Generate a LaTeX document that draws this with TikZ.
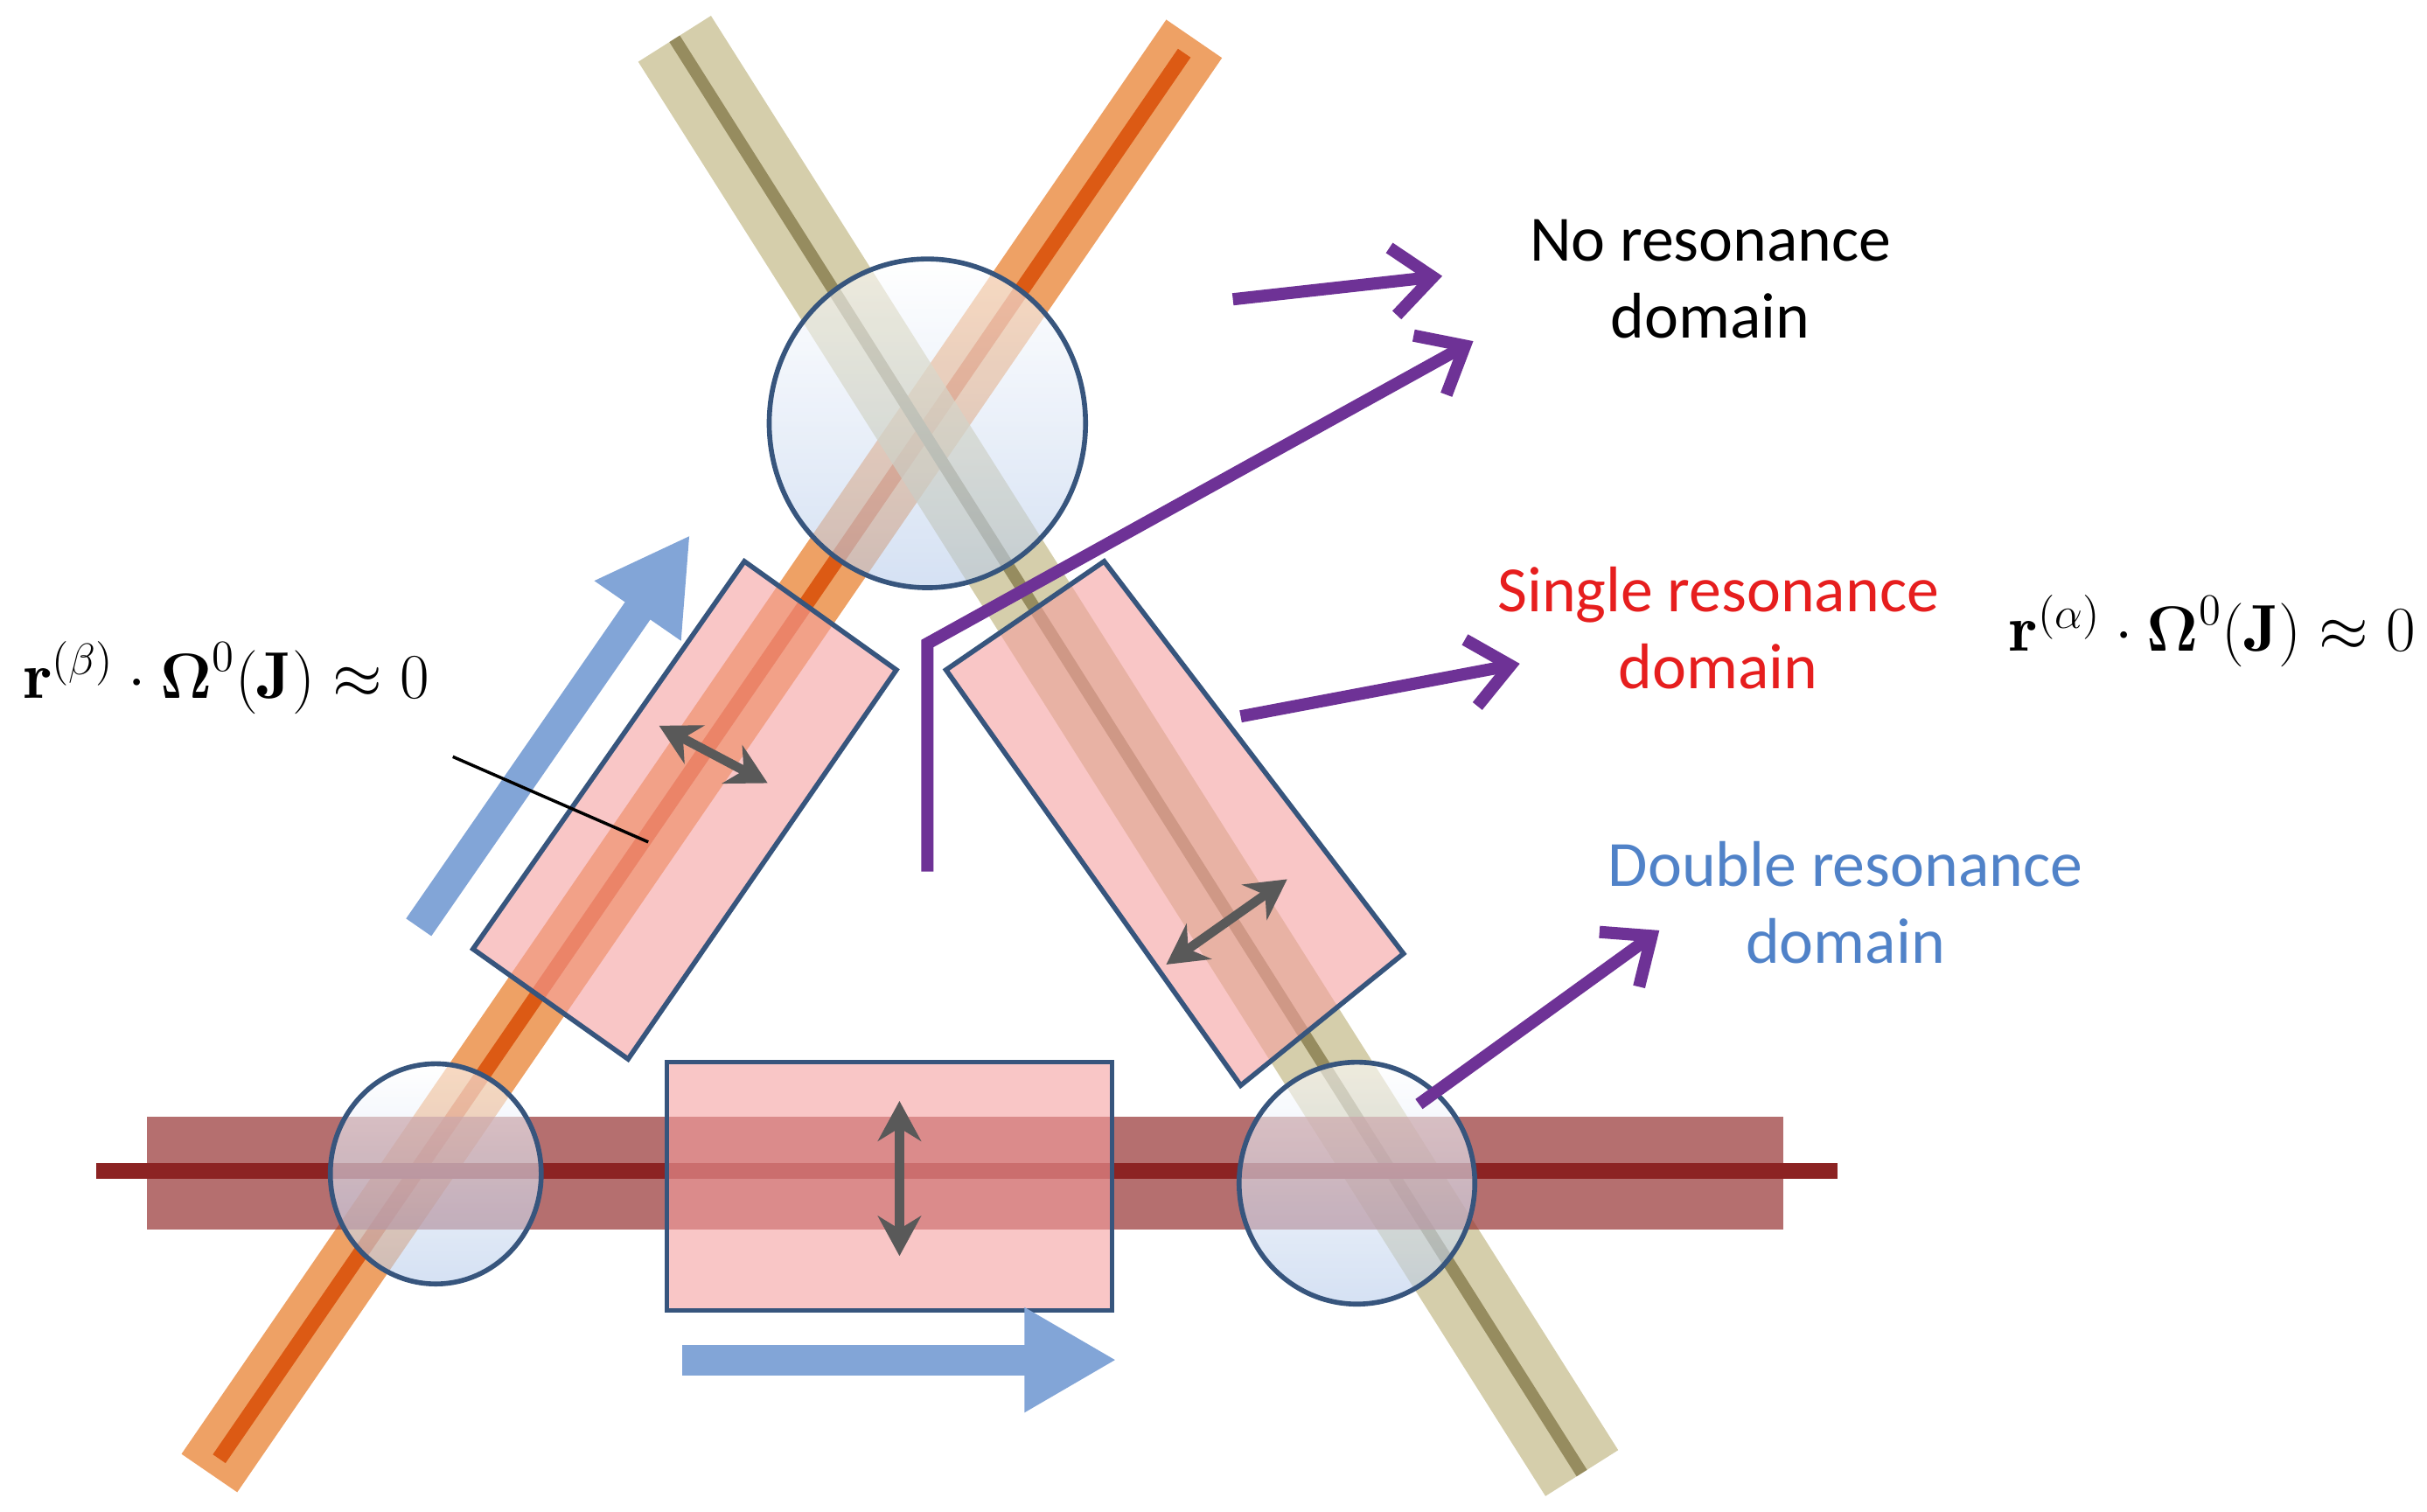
\documentclass[tikz,border=0pt]{standalone}
\usepackage{amsmath,amssymb,bm}
\usepackage{fontspec}
\newfontfamily\labelfont{Carlito}
\usetikzlibrary{arrows.meta,calc}
\definecolor{bandorange}{RGB}{232,130,50}
\definecolor{lineorange}{RGB}{220,90,20}
\definecolor{bandkhaki}{RGB}{195,185,135}
\definecolor{linekhaki}{RGB}{150,140,95}
\definecolor{bandred}{RGB}{150,50,50}
\definecolor{linered}{RGB}{140,35,35}
\definecolor{rimblue}{RGB}{55,85,125}
\definecolor{glassblue}{RGB}{185,205,235}
\definecolor{boxpink}{RGB}{245,160,160}
\definecolor{arrowblue}{RGB}{130,165,215}
\definecolor{domainpurple}{RGB}{110,50,150}
\definecolor{domainred}{RGB}{230,30,30}
\definecolor{domainblue}{RGB}{80,130,200}
\begin{document}
\begin{tikzpicture}[x=0.01773cm,y=-0.01773cm]
    \tikzstyle{every node}=[font=\labelfont\fontsize{21}{25}\selectfont]
    \tikzset{
        band/.style={line width=#1},
        resonance/.style={draw=rimblue,line width=1.6pt,top color=white,bottom color=glassblue,fill opacity=0.6},
        slab/.style={draw=rimblue,line width=1.6pt,fill=boxpink,fill opacity=0.6},
        swing/.style={{Stealth[length=13pt,width=14pt]}-{Stealth[length=13pt,width=14pt]},line width=3pt,draw=black!65},
        flow/.style={-{Triangle[length=30pt,width=32pt]},line width=10pt,draw=arrowblue},
        pointer/.style={-{Straight Barb[length=13pt,width=22pt]},line width=4pt,draw=domainpurple},
        relation/.style={font=\fontsize{21.5}{26}\selectfont,inner sep=0pt}
    }
    \useasboundingbox (0,0) rectangle (1565,975);
    % resonance bands
    \coordinate (ob) at (135,950); \coordinate (ot) at (770,25);
    \coordinate (kt) at (435,25); \coordinate (kb) at (1020,950);
    \draw[band=22pt,bandorange,opacity=0.75] (ob) -- (ot);
    \draw[band=5pt,lineorange] ($(ob)!0.01!(ot)$) -- ($(ob)!0.99!(ot)$);
    \draw[band=28pt,bandkhaki,opacity=0.7] (kt) -- (kb);
    \draw[band=4pt,linekhaki] (kt) -- (kb);
    \fill[bandred,opacity=0.7] (95,720) rectangle (1150,793);
    \draw[band=5pt,linered] (62,755) -- (1185,755);
    % domains
    \draw[slab] (305,612) -- (405,683) -- (578,432) -- (480,362) -- cycle;
    \draw[slab] (610,432) -- (712,362) -- (905,615) -- (800,700) -- cycle;
    \draw[slab] (430,685) rectangle (717,845);
    \draw[resonance] (598,273) ellipse (102 and 106);
    \draw[resonance] (281,757) ellipse (68 and 71);
    \draw[resonance] (875,763) ellipse (76 and 78);
    % motions
    \draw[swing] (425,468) -- (495,505);
    \draw[swing] (752,622) -- (830,567);
    \draw[swing] (580,710) -- (580,810);
    \draw[flow] (270,598) -- (445,345);
    \draw[flow] (440,877) -- (720,877);
    % labels
    \node[align=center] (nores) at (1103,180) {No resonance\\domain};
    \node[align=center,text=domainred] (single) at (1108,405) {Single resonance\\domain};
    \node[align=center,text=domainblue] (double) at (1190,582) {Double resonance\\domain};
    \node[relation,anchor=west] (rbeta) at (15,437) {$\mathbf{r}^{(\beta)}\cdot\bm{\Omega}^{0}(\mathbf{J})\approx0$};
    \node[relation,anchor=east] (ralpha) at (1558,407) {$\mathbf{r}^{(\alpha)}\cdot\bm{\Omega}^{0}(\mathbf{J})\approx0$};
    \coordinate (tip) at (418,543);
    \draw[line width=1pt] (292,488) -- (tip);
    % pointers
    \draw[pointer] (795,193) -- (930,178);
    \draw[pointer] (598,562) -- (598,415) -- (950,220);
    \draw[pointer] (800,462) -- (980,428);
    \draw[pointer] (915,712) -- (1070,600);
\end{tikzpicture}
\end{document}
